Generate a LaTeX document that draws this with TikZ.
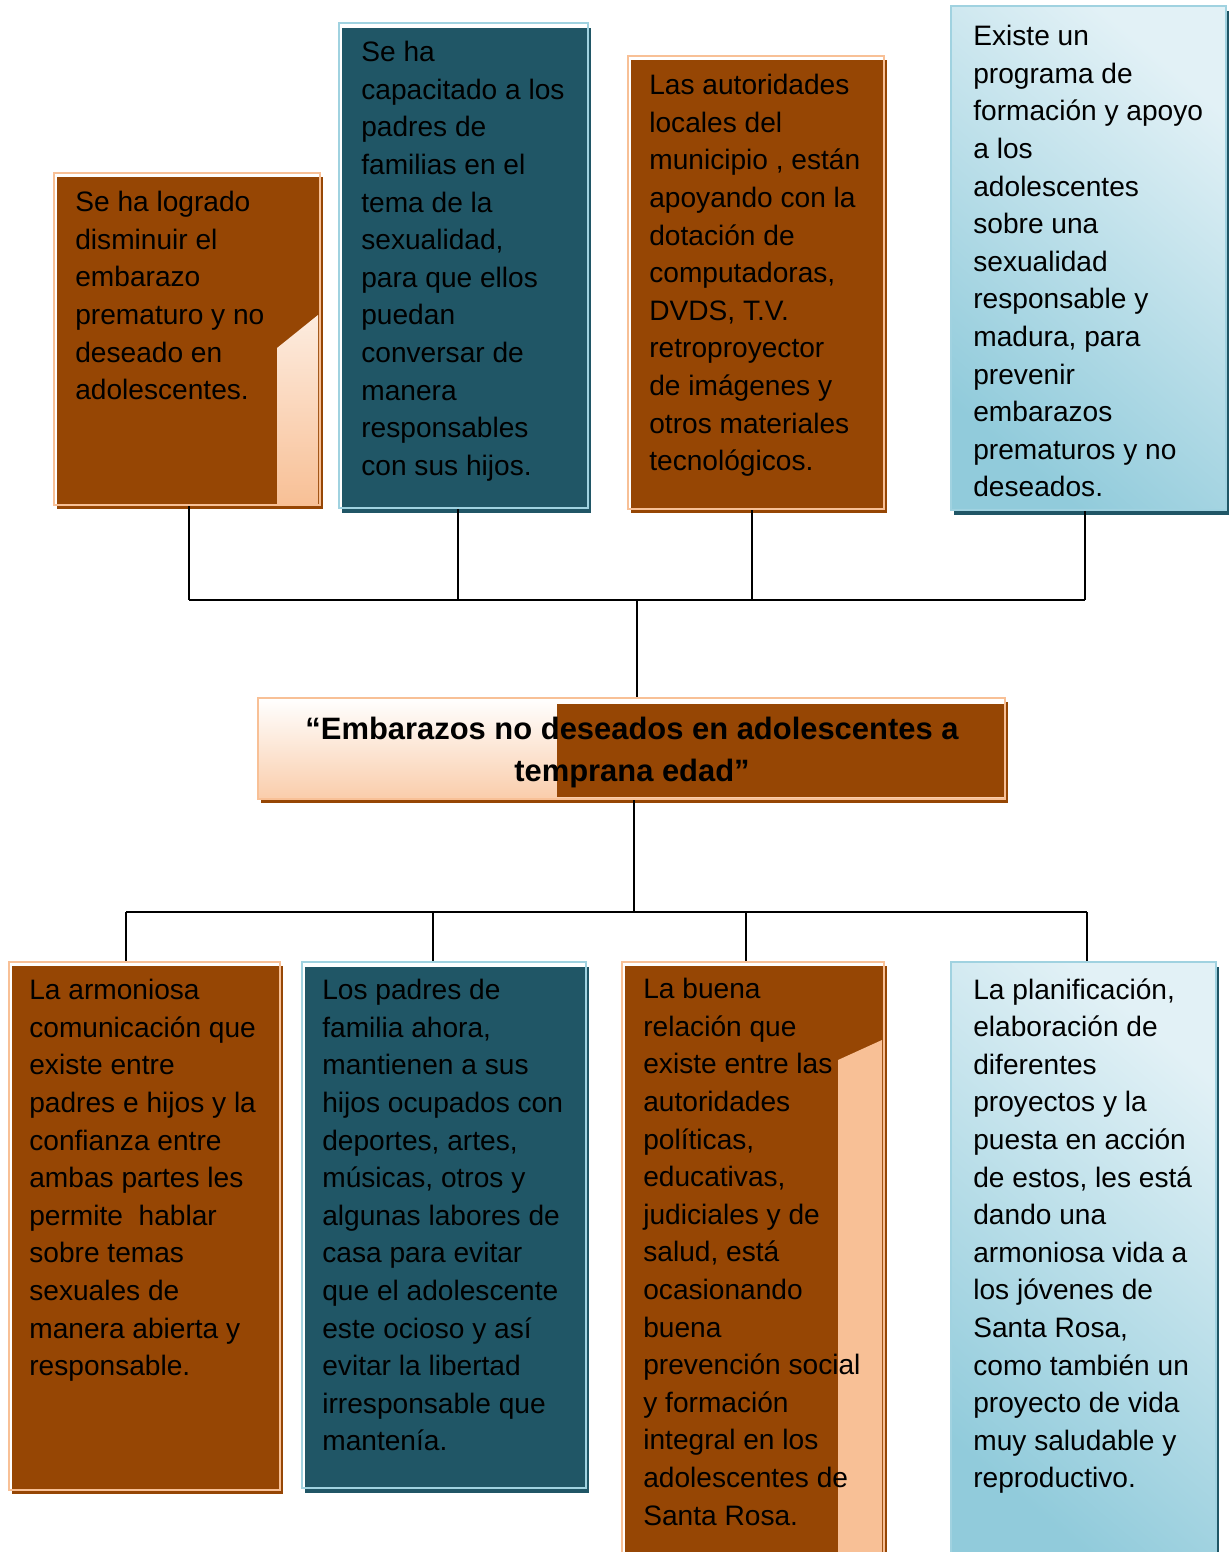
\documentclass[tikz,border=0pt]{standalone}
\usepackage{fontspec}
\setmainfont{Liberation Sans}
\usetikzlibrary{shadows}
\definecolor{brownc}{RGB}{150,70,4}
\definecolor{peachc}{RGB}{248,192,150}
\definecolor{tealc}{RGB}{32,86,102}
\definecolor{skyline}{RGB}{160,210,224}
\definecolor{skylight}{RGB}{226,241,246}
\definecolor{skydark}{RGB}{145,203,219}
\tikzset{
  box/.style={inner sep=0pt, line width=1.5pt},
  sz/.style 2 args={minimum width=#1cm, minimum height=#2cm},
  brownbox/.style={box, draw=peachc, drop shadow={shadow xshift=0.06cm, shadow yshift=-0.08cm, fill=brownc, opacity=1}},
  tealbox/.style={box, draw=skyline, drop shadow={shadow xshift=0.06cm, shadow yshift=-0.1cm, fill=tealc, opacity=1}},
  skybox/.style={box, draw=skyline, top color=skylight, bottom color=skydark, shading angle=-40, drop shadow={shadow xshift=0.06cm, shadow yshift=-0.1cm, fill=tealc, opacity=1}},
  titlebox/.style={box, draw=peachc, top color=white, bottom color=peachc!80, drop shadow={shadow xshift=0.06cm, shadow yshift=-0.08cm, fill=brownc, opacity=1}},
  txt/.style={anchor=north west, inner sep=0pt, align=left, font=\fontsize{16}{21.4}\selectfont},
  titletxt/.style={anchor=north, inner sep=0pt, align=center, font=\bfseries\fontsize{17.6}{23.5}\selectfont},
  link/.style={draw=black, line width=0.9pt},
}
\begin{document}
\begin{tikzpicture}[x=0.02cm, y=-0.02cm]
  \useasboundingbox (0,0) rectangle (1229,1552);
  \clip (0,0) rectangle (1229,1552);
  \node[brownbox, sz={5.32}{6.64}] (logro) at (187,339) {};
  \node[tealbox, sz={4.98}{9.70}] (capac) at (463.5,265.5) {};
  \node[brownbox, sz={5.12}{9.06}] (autor) at (756,282.5) {};
  \node[skybox, sz={5.50}{10.08}] (progr) at (1088.5,258) {};
  \node[titlebox, sz={14.94}{2.02}] (tema) at (631.5,748.5) {};
  \node[brownbox, sz={5.42}{10.56}] (comun) at (144.5,1226) {};
  \node[tealbox, sz={5.68}{10.52}] (padres) at (444,1225) {};
  \node[brownbox, sz={5.24}{11.96}] (relac) at (753,1261) {};
  \node[skybox, sz={5.30}{11.96}] (planif) at (1083.5,1261) {};
  \shade[top color=peachc!30, bottom color=peachc] (277,348) -- (318,315) -- (318,504) -- (277,504) -- cycle;
  \fill[brownc] (557,704) rectangle (1004,797);
  \fill[peachc] (838,1060) -- (882,1040) -- (882,1560) -- (838,1560) -- cycle;
  \node[txt] (logrot) at (75,191) {Se ha logrado\\disminuir el\\embarazo\\prematuro y no\\deseado en\\adolescentes.};
  \node[txt] (capact) at (361,41) {Se ha\\capacitado a los\\padres de\\familias en el\\tema de la\\sexualidad,\\para que ellos\\puedan\\conversar de\\manera\\responsables\\con sus hijos.};
  \node[txt] (autort) at (649,74) {Las autoridades\\locales del\\municipio , están\\apoyando con la\\dotación de\\computadoras,\\DVDS, T.V.\\retroproyector\\de imágenes y\\otros materiales\\tecnológicos.};
  \node[txt] (progrt) at (973,25) {Existe un\\programa de\\formación y apoyo\\a los\\adolescentes\\sobre una\\sexualidad\\responsable y\\madura, para\\prevenir\\embarazos\\prematuros y no\\deseados.};
  \node[titletxt] (temat) at (632,717) {“Embarazos no deseados en adolescentes a\\temprana edad”};
  \node[txt] (comunt) at (29,979) {La armoniosa\\comunicación que\\existe entre\\padres e hijos y la\\confianza entre\\ambas partes les\\permite\ \ hablar\\sobre temas\\sexuales de\\manera abierta y\\responsable.};
  \node[txt] (padrest) at (322,979) {Los padres de\\familia ahora,\\mantienen a sus\\hijos ocupados con\\deportes, artes,\\músicas, otros y\\algunas labores de\\casa para evitar\\que el adolescente\\este ocioso y así\\evitar la libertad\\irresponsable que\\mantenía.};
  \node[txt] (relact) at (643,978) {La buena\\relación que\\existe entre las\\autoridades\\políticas,\\educativas,\\judiciales y de\\salud, está\\ocasionando\\buena\\prevención social\\y formación\\integral en los\\adolescentes de\\Santa Rosa.};
  \node[txt] (planift) at (973,978) {La planificación,\\elaboración de\\diferentes\\proyectos y la\\puesta en acción\\de estos, les está\\dando una\\armoniosa vida a\\los jóvenes de\\Santa Rosa,\\como también un\\proyecto de vida\\muy saludable y\\reproductivo.};
  \coordinate (bustop) at (637,600);
  \coordinate (busbot) at (634,912);
  \foreach \n/\dx in {logro/2, capac/-5.5, autor/-4, progr/-3.5}
    \draw[link] ([xshift=\dx*0.02cm]\n.south) -- ([xshift=\dx*0.02cm]\n.south |- bustop);
  \draw[link] ([xshift=0.04cm]logro.south |- bustop) -- ([xshift=-0.07cm]progr.south |- bustop);
  \draw[link] (bustop) -- (tema.north -| bustop);
  \draw[link] (tema.south -| busbot) -- (busbot);
  \foreach \n/\dx in {comun/-18.5, padres/-11, relac/-7, planif/3.5}
    \draw[link] ([xshift=\dx*0.02cm]\n.north) -- ([xshift=\dx*0.02cm]\n.north |- busbot);
  \draw[link] ([xshift=-0.37cm]comun.north |- busbot) -- ([xshift=0.07cm]planif.north |- busbot);
\end{tikzpicture}
\end{document}
